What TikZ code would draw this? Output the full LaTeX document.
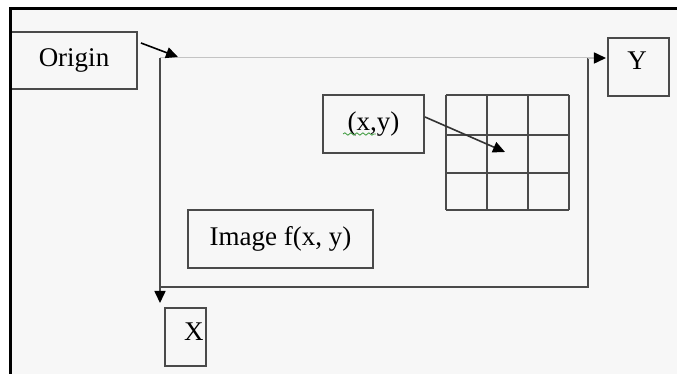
\documentclass[tikz,border=0pt]{standalone}
\usepackage{fontspec}
\setmainfont{Liberation Serif}
\usetikzlibrary{arrows.meta,positioning,decorations.pathmorphing}
\definecolor{paper}{HTML}{F7F7F7}
\definecolor{boxline}{HTML}{4A4A4A}
\definecolor{axisgray}{HTML}{C4C4C4}
\definecolor{spellgreen}{HTML}{3C9A3C}
\tikzset{
  box/.style={draw=boxline, line width=1pt, inner sep=0pt},
  tip/.style={-{Triangle[length=6pt,width=5.5pt,color=black]}, line width=.8pt},
}

\begin{document}
\begin{tikzpicture}[x=.5pt, y=-.5pt, font=\fontsize{13.5}{15}\selectfont]
\useasboundingbox (0,0) rectangle (677,374);
\fill[paper] (11,9) rectangle (677,374);
% boxes
\node[box, minimum width=63pt, minimum height=28.5pt] (origin) at (74,60.5) {Origin};
\node[box, minimum width=30.5pt, minimum height=29pt] (ybox) at (638.5,67) {};
\node (ylab) at (637,61) {Y};
\node[box, minimum width=20.5pt, minimum height=29pt] (xbox) at (185.5,337) {};
\node (xlab) at (194,332) {X};
\node[box, minimum width=50.5pt, minimum height=29pt] (xy) at (373.5,124) {(x,y)};
\node[box, minimum width=92.5pt, minimum height=29pt] (image) at (280.5,239) {Image f(x, y)};
% image plane
\coordinate (o) at (160,58);
\coordinate (c1) at (588,58);
\coordinate (c2) at (588,287);
\coordinate (c3) at (160,287);
\coordinate (xend) at (160,303);
\coordinate (yend) at (606,58);
\coordinate (oin) at (178,57);
\coordinate (cell) at (505,152);
\draw[axisgray, line width=.5pt] (o) -- (c1);
\draw[boxline, line width=1pt] (c1) -- (c2) -- (c3);
% pixel grid
\foreach \gx in {446,487,528,569} \draw[boxline, line width=1pt] (\gx,95) -- (\gx,210);
\foreach \gy in {95,135,173,210} \draw[boxline, line width=1pt] (446,\gy) -- (569,\gy);
% arrows
\draw[tip, boxline] (o) -- (xend);
\draw[tip, axisgray] (c1) -- (yend);
\draw[tip, black] ([shift={(3,12)}]origin.north east) -- (oin);
\draw[tip, black!80] ([yshift=3.5pt]xy.east) -- (cell);
\draw[spellgreen, line width=.4pt, decorate, decoration={snake, amplitude=.6pt, segment length=3pt}] (343,134) -- (376,134);
\draw[black, line width=1.5pt] (11,374) -- (11,9) -- (677,9);
\end{tikzpicture}
\end{document}
